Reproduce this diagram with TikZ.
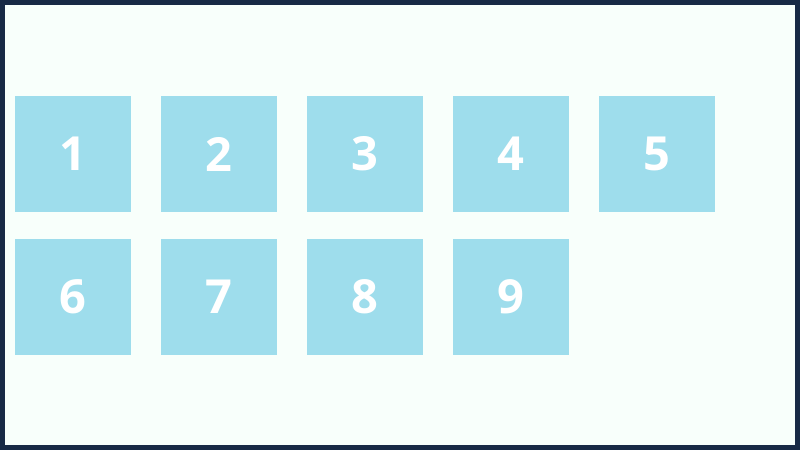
\documentclass[tikz,border=0pt]{standalone}
\usepackage{fontspec}
\setmainfont{Open Sans}
\definecolor{frame}{HTML}{182A45}
\definecolor{bgc}{HTML}{F8FFFB}
\definecolor{boxc}{HTML}{9EDDEC}
\begin{document}
\begin{tikzpicture}[x=1pt,y=-1pt,
  cell/.style={fill=boxc,draw=none,minimum width=116pt,minimum height=116pt,inner sep=0pt,
    anchor=north west,text=white,font=\fontsize{47}{47}\selectfont\bfseries}]
\fill[frame] (0,0) rectangle (800,450);
\fill[bgc] (5,5) rectangle (795,445);
\useasboundingbox (0,0) rectangle (800,450);
\foreach \n/\x/\y in {1/15/96,2/161/96,3/307/96,4/453/96,5/599/96,6/15/239,7/161/239,8/307/239,9/453/239}
  \node[cell] (c\n) at (\x,\y) {\n};
\end{tikzpicture}
\end{document}
